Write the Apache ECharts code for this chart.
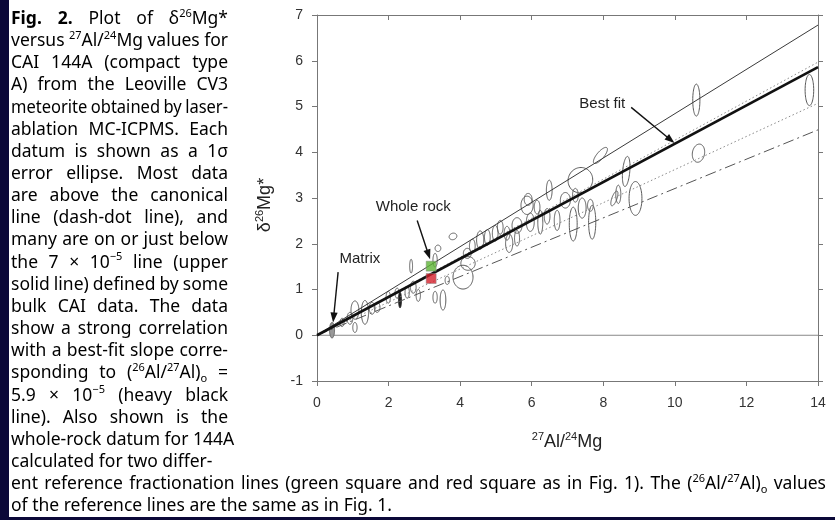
<!DOCTYPE html>
<html>
<head>
<meta charset="utf-8">
<script src="https://cdn.jsdelivr.net/npm/echarts@6/dist/echarts.min.js"></script>
<style>
html,body{margin:0;padding:0;background:#fff;}
#chart{width:835px;height:520px;}
</style>
</head>
<body>
<div id="chart"></div>
<script>
// ---------------- data ----------------
const xTicks = [0, 2, 4, 6, 8, 10, 12, 14];
const yTicks = [-1, 0, 1, 2, 3, 4, 5, 6, 7];
const refX = [0, 14];
const upperSolidY = [0, 6.78];   // 7 x 10^-5 line (upper solid)
const bestFitY    = [0, 5.86];   // best fit (heavy black)
const dottedHighY = [0, 5.97];
const dottedLowY  = [0, 5.07];
const canonicalY  = [0, 4.49];   // canonical (dash-dot)

// 1-sigma error ellipses: centre x, centre y, sigma x, sigma y, tilt (deg)
const ellX  = [10.60,13.76,10.66,7.92,7.36,8.64,8.90,8.31,7.69,7.16,7.41,6.94,6.49,5.90,5.87,6.15,6.43,6.71,6.24,5.96,5.59,5.31,5.12,4.98,4.76,4.56,4.34,4.20,4.22,4.08,5.37,5.59,3.80,3.38,3.30,3.64,2.63,3.52,3.30,2.83,2.69,2.52,2.24,1.99,1.68,1.54,1.34,1.06,0.92,0.70,1.06,7.22,7.64,8.42];
const ellY  = [5.14,5.36,3.98,3.93,3.39,3.58,2.99,2.99,2.47,2.43,2.78,2.95,3.17,2.97,2.84,2.80,2.60,2.51,2.47,2.47,2.40,2.23,2.36,2.23,2.14,2.08,1.95,1.79,1.57,1.27,2.01,2.12,2.16,1.90,1.64,1.20,1.51,0.77,0.83,0.87,1.05,0.94,0.92,0.83,0.61,0.59,0.50,0.55,0.37,0.28,0.17,3.06,2.84,3.08];
const ellSX = [0.10,0.12,0.17,0.10,0.34,0.10,0.18,0.07,0.10,0.11,0.11,0.14,0.08,0.11,0.17,0.08,0.08,0.08,0.07,0.11,0.14,0.08,0.08,0.08,0.08,0.10,0.08,0.11,0.20,0.28,0.10,0.07,0.11,0.08,0.06,0.06,0.04,0.08,0.06,0.06,0.08,0.06,0.06,0.06,0.08,0.08,0.10,0.11,0.08,0.06,0.06,0.08,0.08,0.07];
const ellSY = [0.35,0.34,0.20,0.22,0.28,0.33,0.37,0.17,0.37,0.37,0.22,0.17,0.22,0.13,0.20,0.15,0.17,0.22,0.26,0.20,0.17,0.15,0.15,0.17,0.17,0.20,0.15,0.11,0.15,0.26,0.20,0.17,0.07,0.07,0.15,0.09,0.15,0.22,0.13,0.13,0.13,0.13,0.11,0.13,0.11,0.13,0.26,0.20,0.13,0.09,0.11,0.15,0.13,0.20];
const ellRot = [0,0,10,40,30,5,0,20, 0,0,0,0,0,0,0,0,0,0,0,0,0,0,0,0,0,0,0,0,0,0,0,0, -20, 0,0,0,0,0,0,0,0,0,0,0,0,0,0,0,0,0,0,0,0,0];
const darkEllipse   = [[2.32, 0.77, 0.04, 0.17, 0]];
const matrixEllipse = [[0.42, 0.11, 0.07, 0.17, 0]];

const wholeRockGreen = [[3.19, 1.51]];
const wholeRockRed   = [[3.19, 1.24]];

const noteText  = ['Best fit', 'Whole rock', 'Matrix'];
const noteAt    = [[7.97, 5.05], [2.69, 2.80], [1.20, 1.66]];
const arrowFrom = [[8.78, 4.98], [2.80, 2.51], [0.59, 1.38]];
const arrowTo   = [[9.99, 4.20], [3.16, 1.66], [0.45, 0.28]];

const captionLines = [
  '{b|Fig.} {b|2.} Plot of δ{s|26}Mg*',
  'versus {s|27}Al/{s|24}Mg values for',
  'CAI 144A (compact type',
  'A) from the Leoville CV3',
  'meteorite obtained by laser-',
  'ablation MC-ICPMS. Each',
  'datum is shown as a 1σ',
  'error ellipse. Most data',
  'are above the canonical',
  'line (dash-dot line), and',
  'many are on or just below',
  'the 7 × 10{s|−5} line (upper',
  'solid line) defined by some',
  'bulk CAI data. The data',
  'show a strong correlation',
  'with a best-fit slope corre-',
  'sponding to ({s|26}Al/{s|27}Al){o|o} =',
  '5.9 × 10{s|−5} (heavy black',
  'line). Also shown is the',
  'whole-rock datum for 144A',
  'calculated for two differ-',
  'ent reference fractionation lines (green square and red square as in Fig. 1). The ({s|26}Al/{s|27}Al){o|o} values',
  'of the reference lines are the same as in Fig. 1.'
];
const yName = 'δ{s|26}Mg*';
const xName = '{s|27}Al/{s|24}Mg';

// ---------------- chart ----------------
const chart = echarts.init(document.getElementById('chart'), null, {renderer: 'canvas'});
const pairs = (xs, ys) => xs.map((x, i) => [x, ys[i]]);
const ellipses = ellX.map((x, i) => [x, ellY[i], ellSX[i], ellSY[i], ellRot[i]]);
const arrows = arrowFrom.map((p, i) => [p[0], p[1], arrowTo[i][0], arrowTo[i][1]]);
const CHART_FONT = '"Liberation Sans", Arial, sans-serif';
const AX = '#777';

function ellipseSeries(data, style, z) {
  return {
    type: 'custom', data: data, z: z, silent: true,
    renderItem: function (params, api) {
      const c = api.coord([api.value(0), api.value(1)]);
      const s = api.size([api.value(2), api.value(3)]);
      const rx = Math.abs(s[0]), ry = Math.abs(s[1]);
      const r = api.value(4) * Math.PI / 180;
      const pts = [];
      for (let k = 0; k < 64; k++) {
        const t = k / 64 * Math.PI * 2;
        const ex = rx * Math.cos(t), ey = ry * Math.sin(t);
        pts.push([c[0] + ex * Math.cos(r) - ey * Math.sin(r), c[1] + ex * Math.sin(r) + ey * Math.cos(r)]);
      }
      return {type: 'polygon', shape: {points: pts}, style: Object.assign({}, style)};
    }
  };
}
function refLine(ys, lineStyle, z) {
  return {type: 'line', data: pairs(refX, ys), symbol: 'none', showSymbol: false, lineStyle: lineStyle, z: z, silent: true};
}

const xAxisBase = {
  type: 'value', min: xTicks[0], max: xTicks[xTicks.length - 1], interval: 2,
  splitLine: {show: false},
  axisLine: {show: true, onZero: false, lineStyle: {color: AX, width: 1}},
  axisTick: {show: true, length: 5, lineStyle: {color: AX}}
};
const yAxisBase = {
  type: 'value', min: yTicks[0], max: yTicks[yTicks.length - 1], interval: 1,
  splitLine: {show: false},
  axisLine: {show: true, onZero: false, lineStyle: {color: AX, width: 1}},
  axisTick: {show: true, length: 5, lineStyle: {color: AX}}
};

chart.setOption({
  animation: false,
  backgroundColor: '#ffffff',
  grid: {left: 317, right: 17, top: 15, bottom: 139, containLabel: false, outerBoundsMode: 'none'},
  xAxis: [
    Object.assign({}, xAxisBase, {position: 'bottom',
      axisLabel: {show: true, margin: 15, color: '#333', fontSize: 14, fontFamily: CHART_FONT}}),
    Object.assign({}, xAxisBase, {position: 'top', axisLabel: {show: false},
      axisTick: {show: true, inside: true, length: 5, lineStyle: {color: AX}}})
  ],
  yAxis: [
    Object.assign({}, yAxisBase, {position: 'left',
      axisLabel: {show: true, margin: 14, color: '#333', fontSize: 14, fontFamily: CHART_FONT}}),
    Object.assign({}, yAxisBase, {position: 'right', axisLabel: {show: false}})
  ],
  series: [
    refLine([0, 0], {color: '#888', width: 1}, 1),
    ellipseSeries(ellipses, {fill: 'none', stroke: '#5a5a5a', lineWidth: 1}, 2),
    ellipseSeries(darkEllipse, {fill: '#222', stroke: '#222', lineWidth: 1}, 2),
    ellipseSeries(matrixEllipse, {fill: '#999', stroke: '#666', lineWidth: 1}, 2),
    refLine(upperSolidY, {color: '#3a3a3a', width: 1}, 3),
    refLine(dottedHighY, {color: '#8a8a8a', width: 1, type: [1.5, 2.5]}, 3),
    refLine(dottedLowY,  {color: '#8a8a8a', width: 1, type: [1.5, 2.5]}, 3),
    refLine(canonicalY,  {color: '#555', width: 1, type: [11, 4, 2, 4]}, 3),
    refLine(bestFitY,    {color: '#111', width: 2.6}, 4),
    {type: 'scatter', data: wholeRockGreen, symbol: 'rect', symbolSize: 10, z: 5, silent: true,
      itemStyle: {color: '#5cb435', borderColor: '#8a8a8a', borderWidth: 0.6}},
    {type: 'scatter', data: wholeRockRed, symbol: 'rect', symbolSize: 10, z: 5, silent: true,
      itemStyle: {color: '#d4202c', borderColor: '#8a8a8a', borderWidth: 0.6}},
    {type: 'custom', data: arrows, z: 6, silent: true,
      renderItem: function (params, api) {
        const a = api.coord([api.value(0), api.value(1)]);
        const b = api.coord([api.value(2), api.value(3)]);
        const dx = b[0] - a[0], dy = b[1] - a[1], L = Math.hypot(dx, dy);
        const ux = dx / L, uy = dy / L, hl = 10, hw = 3.6;
        const base = [b[0] - ux * hl, b[1] - uy * hl];
        return {type: 'group', children: [
          {type: 'line', shape: {x1: a[0], y1: a[1], x2: base[0] + ux * 2, y2: base[1] + uy * 2},
            style: {stroke: '#111', lineWidth: 1.4}},
          {type: 'polygon', shape: {points: [b, [base[0] - uy * hw, base[1] + ux * hw], [base[0] + uy * hw, base[1] - ux * hw]]},
            style: {fill: '#111'}}
        ]};
      }}
  ]
});

// ---------------- texts ----------------
const graphics = [];
graphics.push({type: 'rect', shape: {x: 0, y: 0, width: 9, height: 520}, style: {fill: '#0b0838'}, z: 100});
graphics.push({type: 'rect', shape: {x: 0, y: 517, width: 835, height: 3}, style: {fill: '#0b0838'}, z: 100});

noteText.forEach(function (t, i) {
  const p = chart.convertToPixel({gridIndex: 0}, noteAt[i]);
  graphics.push({type: 'text', x: p[0], y: p[1], z: 50,
    style: {text: t, fontFamily: CHART_FONT, fontSize: 15, fill: '#222',
      align: 'center', verticalAlign: 'middle', textAlign: 'center', textVerticalAlign: 'middle'}});
});

const supRich = {
  s: {fontFamily: CHART_FONT, fontSize: 11, fill: '#222', verticalAlign: 'top', lineHeight: 22}
};
graphics.push({type: 'text', x: 265, y: 205, rotation: Math.PI / 2, z: 50,
  style: {text: yName, rich: supRich, fontFamily: CHART_FONT, fontSize: 18, fill: '#222', lineHeight: 22,
    align: 'center', verticalAlign: 'middle', textAlign: 'center', textVerticalAlign: 'middle'}});
graphics.push({type: 'text', x: 567, y: 442, z: 50,
  style: {text: xName, rich: supRich, fontFamily: CHART_FONT, fontSize: 18, fill: '#222', lineHeight: 22,
    align: 'center', verticalAlign: 'middle', textAlign: 'center', textVerticalAlign: 'middle'}});

// caption (justified column)
const CAP_FONT = '"Noto Sans", "Open Sans", sans-serif';
const capSize = 17.5;
const mctx = document.createElement('canvas').getContext('2d');
const capRich = {
  b: {fontFamily: CAP_FONT, fontSize: capSize, fontWeight: 'bold', fill: '#000'},
  s: {fontFamily: CAP_FONT, fontSize: 11, fill: '#000', verticalAlign: 'top', lineHeight: 22},
  o: {fontFamily: CAP_FONT, fontSize: 11, fill: '#000', verticalAlign: 'bottom', lineHeight: 22}
};
function fontOf(st) { return (st.fontWeight || 'normal') + ' ' + st.fontSize + 'px ' + st.fontFamily; }
function measureWord(w) {
  let total = 0, m;
  const re = /\{(\w+)\|([^}]*)\}|([^{]+)/g;
  while ((m = re.exec(w)) !== null) {
    if (m[3] !== undefined) { mctx.font = fontOf({fontSize: capSize, fontFamily: CAP_FONT}); total += mctx.measureText(m[3]).width; }
    else { mctx.font = fontOf(capRich[m[1]]); total += mctx.measureText(m[2]).width; }
  }
  return total;
}
mctx.font = fontOf({fontSize: capSize, fontFamily: CAP_FONT});
const spaceW = mctx.measureText(' ').width;
captionLines.forEach(function (line, i) {
  const words = line.split(' ');
  const sum = words.map(measureWord).reduce((a, b) => a + b, 0);
  const target = i < 19 ? 217 : (i === 21 ? 815 : null);
  let gap = spaceW, sx = 1;
  if (target && words.length > 1) {
    gap = (target - sum) / (words.length - 1);
    const minGap = spaceW * 0.8;
    if (gap < minGap) {
      gap = minGap;
      sx = target / (sum + gap * (words.length - 1));
    }
  }
  const rich = Object.assign({}, capRich, {g: {width: gap, fontFamily: CAP_FONT, fontSize: capSize}});
  graphics.push({type: 'text', x: 11, y: 19 + i * 22.15, scaleX: sx, z: 50,
    style: {text: words.join('{g| }'), rich: rich, fontFamily: CAP_FONT, fontSize: capSize, fill: '#000', lineHeight: 22,
      align: 'left', verticalAlign: 'middle', textAlign: 'left', textVerticalAlign: 'middle'}});
});

chart.setOption({graphic: {elements: graphics}});
</script>
</body>
</html>
